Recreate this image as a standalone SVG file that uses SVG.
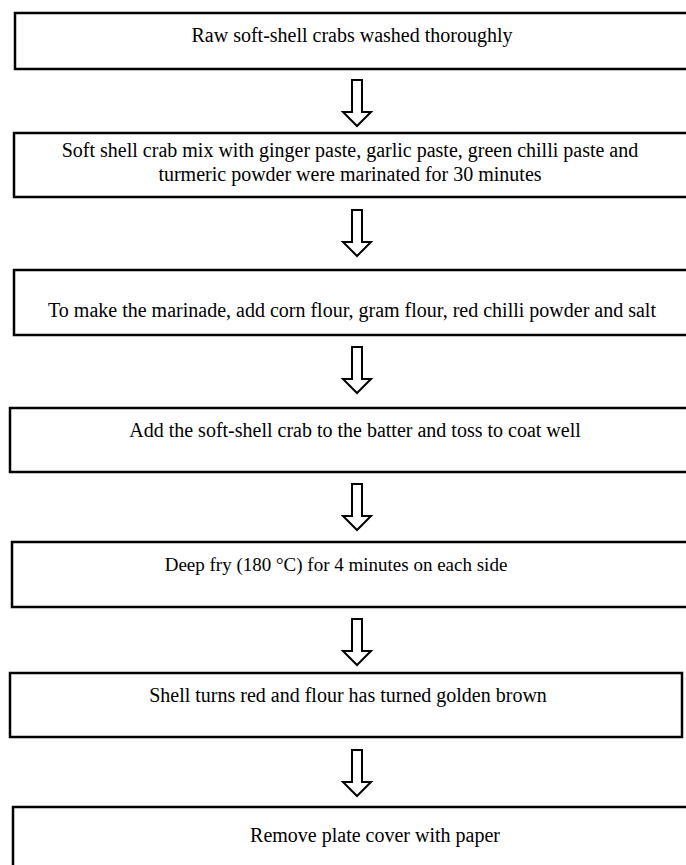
<svg xmlns="http://www.w3.org/2000/svg" width="686" height="865" viewBox="0 0 686 865">
<style>
.box{fill:#fff;stroke:#000;stroke-width:2.5}
.t{font-family:"Liberation Serif","Times New Roman",serif;font-size:20px;fill:#000;text-anchor:middle}
.arr{fill:#fff;stroke:#000;stroke-width:2;stroke-linejoin:miter}
</style>
<defs>
<path id="a" class="arr" d="M-5,0 L5,0 L5,32 L14,32 L0,46 L-14,32 L-5,32 Z"/>
</defs>
<rect width="686" height="865" fill="#fff"/>
<g id="n1"><rect class="box" x="15" y="13" width="676" height="56"/><text class="t" x="352" y="42">Raw soft-shell crabs washed thoroughly</text></g>
<g id="n2"><rect class="box" x="14" y="133" width="677" height="64"/><text class="t" x="350" y="157">Soft shell crab mix with ginger paste, garlic paste, green chilli paste and</text><text class="t" x="350" y="181">turmeric powder were marinated for 30 minutes</text></g>
<g id="n3"><rect class="box" x="14" y="270" width="677" height="65"/><text class="t" x="352" y="317">To make the marinade, add corn flour, gram flour, red chilli powder and salt</text></g>
<g id="n4"><rect class="box" x="10" y="408" width="681" height="64"/><text class="t" x="355" y="437">Add the soft-shell crab to the batter and toss to coat well</text></g>
<g id="n5"><rect class="box" x="12" y="542" width="679" height="65"/><text class="t" x="336" y="571" style="font-size:19px">Deep fry (180 °C) for 4 minutes on each side</text></g>
<g id="n6"><rect class="box" x="10" y="673" width="672" height="64"/><text class="t" x="348" y="702">Shell turns red and flour has turned golden brown</text></g>
<g id="n7"><rect class="box" x="13" y="807" width="678" height="70"/><text class="t" x="375" y="842">Remove plate cover with paper</text></g>
<g id="connectors">
<use href="#a" x="357" y="80"/>
<use href="#a" x="357" y="210"/>
<use href="#a" x="357" y="347"/>
<use href="#a" x="357" y="484"/>
<use href="#a" x="357" y="619"/>
<use href="#a" x="357" y="750"/>
</g>
</svg>
